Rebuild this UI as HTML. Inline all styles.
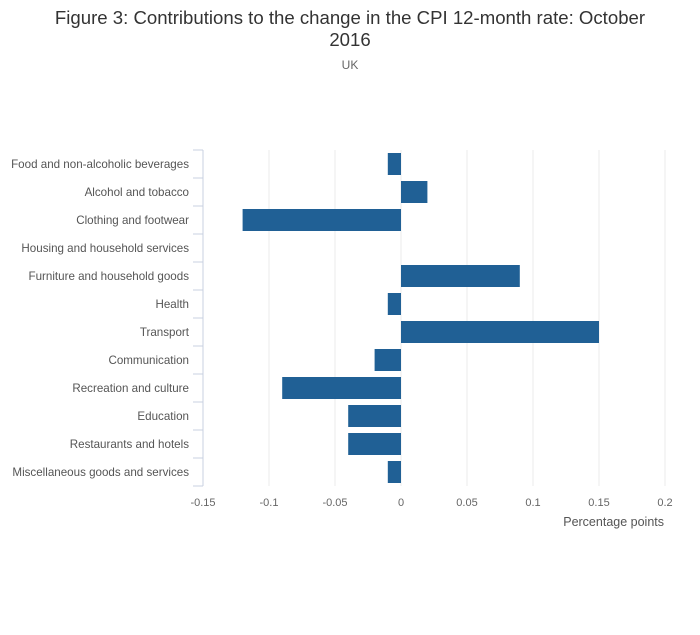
<!DOCTYPE html>
<html><head><meta charset="utf-8"><style>
body{margin:0;background:#fff;font-family:"Liberation Sans",sans-serif;}
svg{display:block}
</style></head><body>
<svg width="700" height="635" id="c">
<text x="350" y="24" text-anchor="middle" font-size="18.6" fill="#333">Figure 3: Contributions to the change in the CPI 12-month rate: October</text>
<text x="350" y="46" text-anchor="middle" font-size="18.6" fill="#333">2016</text>
<text x="350" y="69" text-anchor="middle" font-size="12" fill="#666">UK</text>
<text x="664" y="526" text-anchor="end" font-size="12.5" fill="#555">Percentage points</text>
<g id="g"></g>
</svg>
<script>
const categories=["Food and non-alcoholic beverages","Alcohol and tobacco","Clothing and footwear","Housing and household services","Furniture and household goods","Health","Transport","Communication","Recreation and culture","Education","Restaurants and hotels","Miscellaneous goods and services"];
const values=[-0.01,0.02,-0.12,0,0.09,-0.01,0.15,-0.02,-0.09,-0.04,-0.04,-0.01];
const ticks=[-0.15,-0.1,-0.05,0,0.05,0.1,0.15,0.2];
const tickLabels=["-0.15","-0.1","-0.05","0","0.05","0.1","0.15","0.2"];
const NS="http://www.w3.org/2000/svg";
const g=document.getElementById('g');
const x0=203,x1=665,plotTop=150,rowH=28;
const xs=v=>x0+(v-ticks[0])/(ticks[ticks.length-1]-ticks[0])*(x1-x0);
const plotBottom=plotTop+rowH*categories.length;
function mk(t,a){const e=document.createElementNS(NS,t);for(const k in a)e.setAttribute(k,a[k]);g.appendChild(e);return e;}
ticks.forEach((t,i)=>{
  const l=mk('line',{x1:xs(t),x2:xs(t),y1:plotTop,y2:plotBottom,stroke:'#ebebeb','stroke-width':1});
  
  
  const tx=mk('text',{x:xs(t),y:506,'text-anchor':'middle','font-size':11,fill:'#666'});
  tx.textContent=tickLabels[i];
  
  
});
const ax=mk('line',{x1:x0,x2:x0,y1:plotTop,y2:plotBottom,stroke:'#c8d0e0'});


for(let i=0;i<=categories.length;i++){
  const tk=mk('line',{x1:193,x2:x0,y1:plotTop+i*rowH,y2:plotTop+i*rowH,stroke:'#c8d0e0'});
  
  
}
categories.forEach((c,i)=>{
  const cy=plotTop+i*rowH+rowH/2;
  const tx=mk('text',{x:189,y:cy+4,'text-anchor':'end','font-size':11.6,fill:'#555'});
  tx.textContent=c;
  
  
  const v=values[i];
  const a=xs(Math.min(0,v)),b=xs(Math.max(0,v));
  const r=mk('rect',{x:a,y:cy-11,width:b-a,height:22,fill:'#206095'});
  
  
});
</script>
</body></html>
